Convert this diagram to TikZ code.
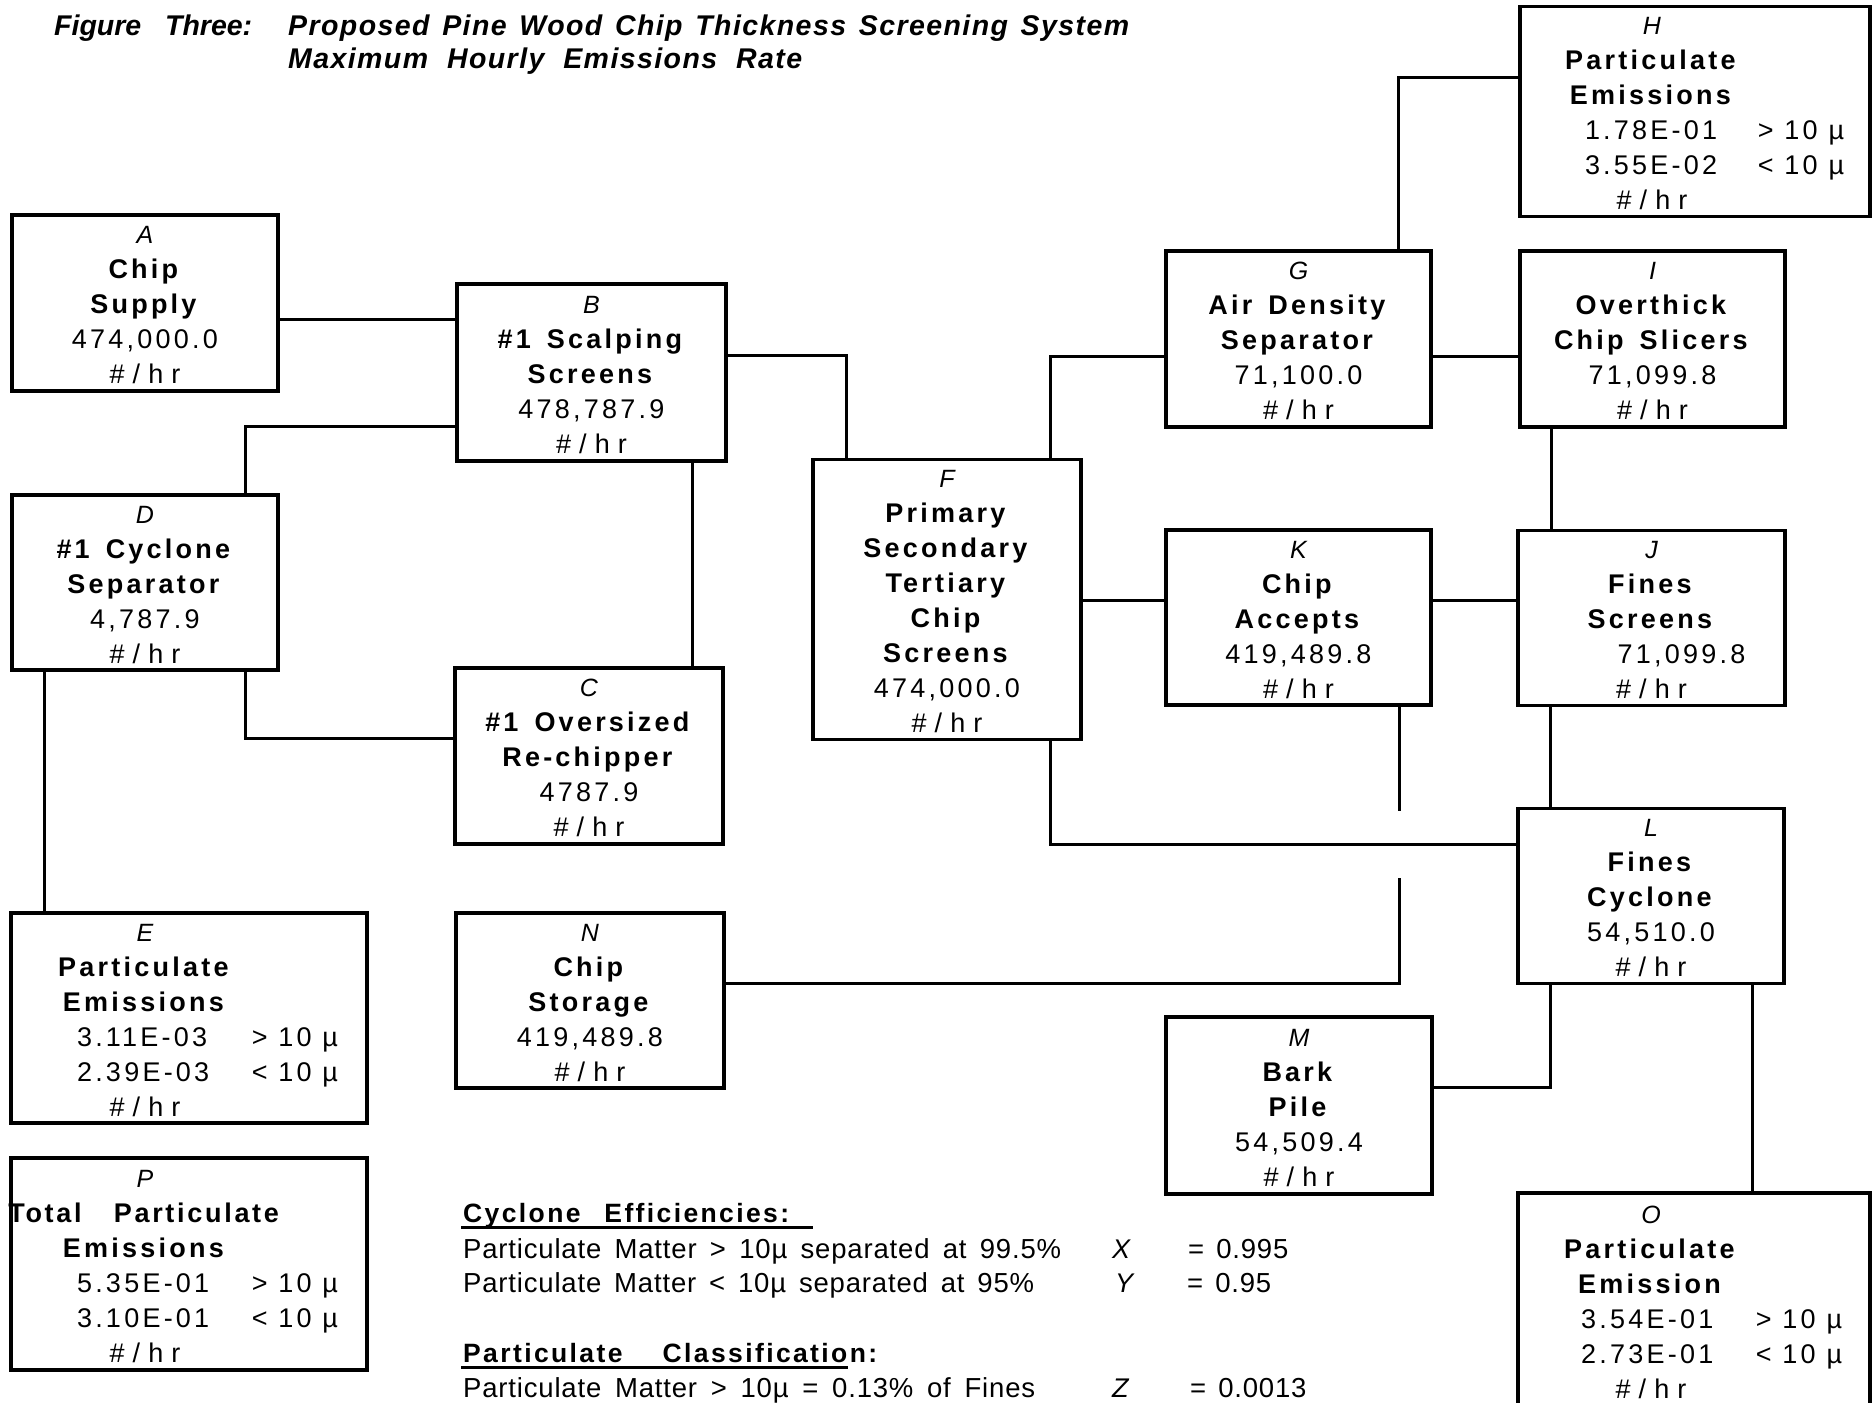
\documentclass[tikz,border=0pt]{standalone}
\usepackage{fontspec}
\setmainfont{Liberation Sans}
\newfontfamily\boxfont[LetterSpace=12]{Liberation Sans}
\newfontfamily\headfont[LetterSpace=9]{Liberation Sans}
\newfontfamily\titlefont[LetterSpace=5]{Liberation Sans}
\newfontfamily\figfont{Liberation Sans}
\newfontfamily\legfont[LetterSpace=3]{Liberation Sans}

% text helpers for the flow boxes
\newcommand\bxf{\boxfont\fontsize{27pt}{35pt}\selectfont}
\newcommand\lstrut{\rule[-7pt]{0pt}{35pt}}
\newcommand\boxid[1]{{\addfontfeature{LetterSpace=0}\fontsize{25pt}{35pt}\selectfont\itshape #1}}
\newcommand\phr{{\addfontfeature{LetterSpace=30}\#/hr}}
\newcommand\ctrat[2]{\makebox[0pt][l]{\hspace*{#1}\makebox[0pt]{#2}}}
\newcommand\leftat[2]{\makebox[0pt][l]{\hspace*{#1}#2}}
\newcommand\ws{\hspace{16pt}}

\tikzset{
  box/.style={draw, line width=3.2pt, rectangle, inner sep=0pt, align=center, font=\bxf},
  wire/.style={line width=3pt},
  uline/.style={line width=3pt},
  titletext/.style={anchor=base west, inner sep=0pt, font=\titlefont\bfseries\itshape\fontsize{28.5pt}{30pt}\selectfont},
  headtext/.style={anchor=base west, inner sep=0pt, font=\headfont\bfseries\fontsize{26.5pt}{30pt}\selectfont},
  bodytext/.style={anchor=base west, inner sep=0pt, font=\legfont\fontsize{27.5pt}{30pt}\selectfont},
  vartext/.style={anchor=base west, inner sep=0pt, font=\itshape\fontsize{27pt}{30pt}\selectfont},
}

\begin{document}
\begin{tikzpicture}[x=1pt, y=-1pt]
\useasboundingbox (0,0) rectangle (1872,1403);
\fill[white] (0,0) rectangle (1872,1403);
\clip (0,0) rectangle (1872,1403);

% ---- heading ----
\node[titletext, font=\figfont\bfseries\itshape\fontsize{28.5pt}{30pt}\selectfont] (figno) at (54,35) {\makebox[198pt][s]{Figure Three:}};
\node[titletext] (title1) at (288,35) {\makebox[841pt][s]{Proposed Pine Wood Chip Thickness Screening System}};
\node[titletext] (title2) at (288,68) {\makebox[514pt][s]{Maximum Hourly Emissions Rate}};

% ---- process boxes ----
\node[box, minimum width=266, minimum height=176] (A) at (145,303)
  {\lstrut\boxid{A}\\\lstrut\textbf{Chip}\\\lstrut\textbf{Supply}\\\lstrut 474,000.0\\\lstrut\phr};
\node[box, minimum width=269, minimum height=177] (B) at (591.5,372.5)
  {\lstrut\boxid{B}\\\lstrut\textbf{\#1\ws Scalping}\\\lstrut\textbf{Screens}\\\lstrut 478,787.9\\\lstrut\phr};
\node[box, minimum width=268, minimum height=176] (C) at (589,756)
  {\lstrut\boxid{C}\\\lstrut\textbf{\#1\ws Oversized}\\\lstrut\textbf{Re-chipper}\\\lstrut 4787.9\\\lstrut\phr};
\node[box, minimum width=266, minimum height=175] (D) at (145,582.5)
  {\lstrut\boxid{D}\\\lstrut\textbf{\#1\ws Cyclone}\\\lstrut\textbf{Separator}\\\lstrut 4,787.9\\\lstrut\phr};
\node[box, minimum width=268, minimum height=279] (F) at (947,599.5)
  {\lstrut\boxid{F}\\\lstrut\textbf{Primary}\\\lstrut\textbf{Secondary}\\\lstrut\textbf{Tertiary}\\\lstrut\textbf{Chip}\\\lstrut\textbf{Screens}\\\lstrut 474,000.0\\\lstrut\phr};
\node[box, minimum width=265, minimum height=176] (G) at (1298.5,339)
  {\lstrut\boxid{G}\\\lstrut\textbf{Air\ws Density}\\\lstrut\textbf{Separator}\\\lstrut 71,100.0\\\lstrut\phr};
\node[box, minimum width=265, minimum height=176] (I) at (1652.5,339)
  {\lstrut\boxid{I}\\\lstrut\textbf{Overthick}\\\lstrut\textbf{Chip\ws Slicers}\\\lstrut 71,099.8\\\lstrut\phr};
\node[box, minimum width=265, minimum height=175] (K) at (1298.5,617.5)
  {\lstrut\boxid{K}\\\lstrut\textbf{Chip}\\\lstrut\textbf{Accepts}\\\lstrut 419,489.8\\\lstrut\phr};
\node[box, minimum width=267, minimum height=174] (J) at (1651.5,618)
  {\lstrut\boxid{J}\\\lstrut\textbf{Fines}\\\lstrut\textbf{Screens}\\\lstrut\ctrat{30pt}{71,099.8}\\\lstrut\phr};
\node[box, minimum width=266, minimum height=174] (L) at (1651,896)
  {\lstrut\boxid{L}\\\lstrut\textbf{Fines}\\\lstrut\textbf{Cyclone}\\\lstrut 54,510.0\\\lstrut\phr};
\node[box, minimum width=266, minimum height=177] (M) at (1299,1105.5)
  {\lstrut\boxid{M}\\\lstrut\textbf{Bark}\\\lstrut\textbf{Pile}\\\lstrut 54,509.4\\\lstrut\phr};
\node[box, minimum width=268, minimum height=175] (N) at (590,1000.5)
  {\lstrut\boxid{N}\\\lstrut\textbf{Chip}\\\lstrut\textbf{Storage}\\\lstrut 419,489.8\\\lstrut\phr};

% ---- emission boxes (text column set left of centre) ----
\node[box, minimum width=356, minimum height=210] (E) at (189,1018)
  {\lstrut\ctrat{-44pt}{\boxid{E}}\\
   \lstrut\ctrat{-44pt}{\textbf{Particulate}}\\
   \lstrut\ctrat{-44pt}{\textbf{Emissions}}\\
   \lstrut\leftat{-112pt}{3.11E-03}\leftat{63pt}{> 10 µ}\\
   \lstrut\leftat{-112pt}{2.39E-03}\leftat{63pt}{< 10 µ}\\
   \lstrut\ctrat{-44pt}{\phr}};
\node[box, minimum width=356, minimum height=212] (P) at (189,1264)
  {\lstrut\ctrat{-44pt}{\boxid{P}}\\
   \lstrut\ctrat{-44pt}{\addfontfeature{LetterSpace=10}\textbf{Total\hspace{22pt} Particulate}}\\
   \lstrut\ctrat{-44pt}{\textbf{Emissions}}\\
   \lstrut\leftat{-112pt}{5.35E-01}\leftat{63pt}{> 10 µ}\\
   \lstrut\leftat{-112pt}{3.10E-01}\leftat{63pt}{< 10 µ}\\
   \lstrut\ctrat{-44pt}{\phr}};
\node[box, minimum width=350, minimum height=209] (H) at (1695,111.5)
  {\lstrut\ctrat{-43pt}{\boxid{H}}\\
   \lstrut\ctrat{-43pt}{\textbf{Particulate}}\\
   \lstrut\ctrat{-43pt}{\textbf{Emissions}}\\
   \lstrut\leftat{-110pt}{1.78E-01}\leftat{63pt}{> 10 µ}\\
   \lstrut\leftat{-110pt}{3.55E-02}\leftat{63pt}{< 10 µ}\\
   \lstrut\ctrat{-43pt}{\phr}};
\node[box, minimum width=352, minimum height=214] (O) at (1694,1300)
  {\lstrut\ctrat{-43pt}{\boxid{O}}\\
   \lstrut\ctrat{-43pt}{\textbf{Particulate}}\\
   \lstrut\ctrat{-43pt}{\textbf{Emission}}\\
   \lstrut\leftat{-113pt}{3.54E-01}\leftat{62pt}{> 10 µ}\\
   \lstrut\leftat{-113pt}{2.73E-01}\leftat{62pt}{< 10 µ}\\
   \lstrut\ctrat{-43pt}{\phr}};

% ---- connectors ----
\draw[wire] (A.east |- 0,319) -- (B.west |- 0,319);
\draw[wire] (B.west |- 0,426) -| (D.north -| 245,0);
\draw[wire] (B.south -| 692,0) -- (C.north -| 692,0);
\draw[wire] (D.south -| 245,0) |- (C.west |- 0,738);
\draw[wire] (D.south -| 44,0) -- (E.north -| 44,0);
\draw[wire] (B.east |- 0,355) -| (F.north -| 846,0);
\draw[wire] (F.north -| 1050,0) |- (G.west |- 0,356);
\draw[wire] (G.east |- 0,356) -- (I.west |- 0,356);
\draw[wire] (G.north -| 1398,0) |- (H.west |- 0,77);
\draw[wire] (I.south -| 1551,0) -- (J.north -| 1551,0);
\draw[wire] (F.east |- 0,600) -- (K.west |- 0,600);
\draw[wire] (K.east |- 0,600) -- (J.west |- 0,600);
\draw[wire] (F.south -| 1050,0) |- (L.west |- 0,844);
% accepts to storage, broken where it passes the fines line
\coordinate (hopTop) at (1399,811);
\coordinate (hopBot) at (1399,878);
\draw[wire] (K.south -| hopTop) -- (hopTop);
\draw[wire] (hopBot) |- (N.east |- 0,983);
\draw[wire] (J.south -| 1550,0) -- (L.north -| 1550,0);
\draw[wire] (L.south -| 1550,0) |- (M.east |- 0,1087);
\draw[wire] (L.south -| 1752,0) -- (O.north -| 1752,0);

% ---- legend ----
\node[headtext] (cyc) at (463,1222) {\makebox[326pt][s]{Cyclone Efficiencies:}};
\draw[uline] ([xshift=-2pt, yshift=-5pt]cyc.base west) -- ++(352,0);
\node[bodytext] (pm1) at (463,1258) {\makebox[598pt][s]{Particulate Matter > 10µ separated at 99.5\%}};
\node[bodytext] (pm2) at (463,1292) {\makebox[571pt][s]{Particulate Matter < 10µ separated at 95\%}};
\node[vartext] (vx) at (1112,1258) {X};
\node[vartext] (vy) at (1115,1292) {Y};
\node[bodytext] (ex) at (1188,1258) {=\hspace{12pt}0.995};
\node[bodytext] (ey) at (1187,1292) {=\hspace{12pt}0.95};

\node[headtext] (cls) at (463,1362) {\makebox[414pt][s]{Particulate Classification:}};
\draw[uline] ([xshift=-2pt, yshift=-5pt]cls.base west) -- ++(387,0);
\node[bodytext] (pm3) at (463,1397) {\makebox[572pt][s]{Particulate Matter > 10µ = 0.13\% of Fines}};
\node[vartext] (vz) at (1112,1397) {Z};
\node[bodytext] (ez) at (1190,1397) {=\hspace{12pt}0.0013};
\end{tikzpicture}
\end{document}
